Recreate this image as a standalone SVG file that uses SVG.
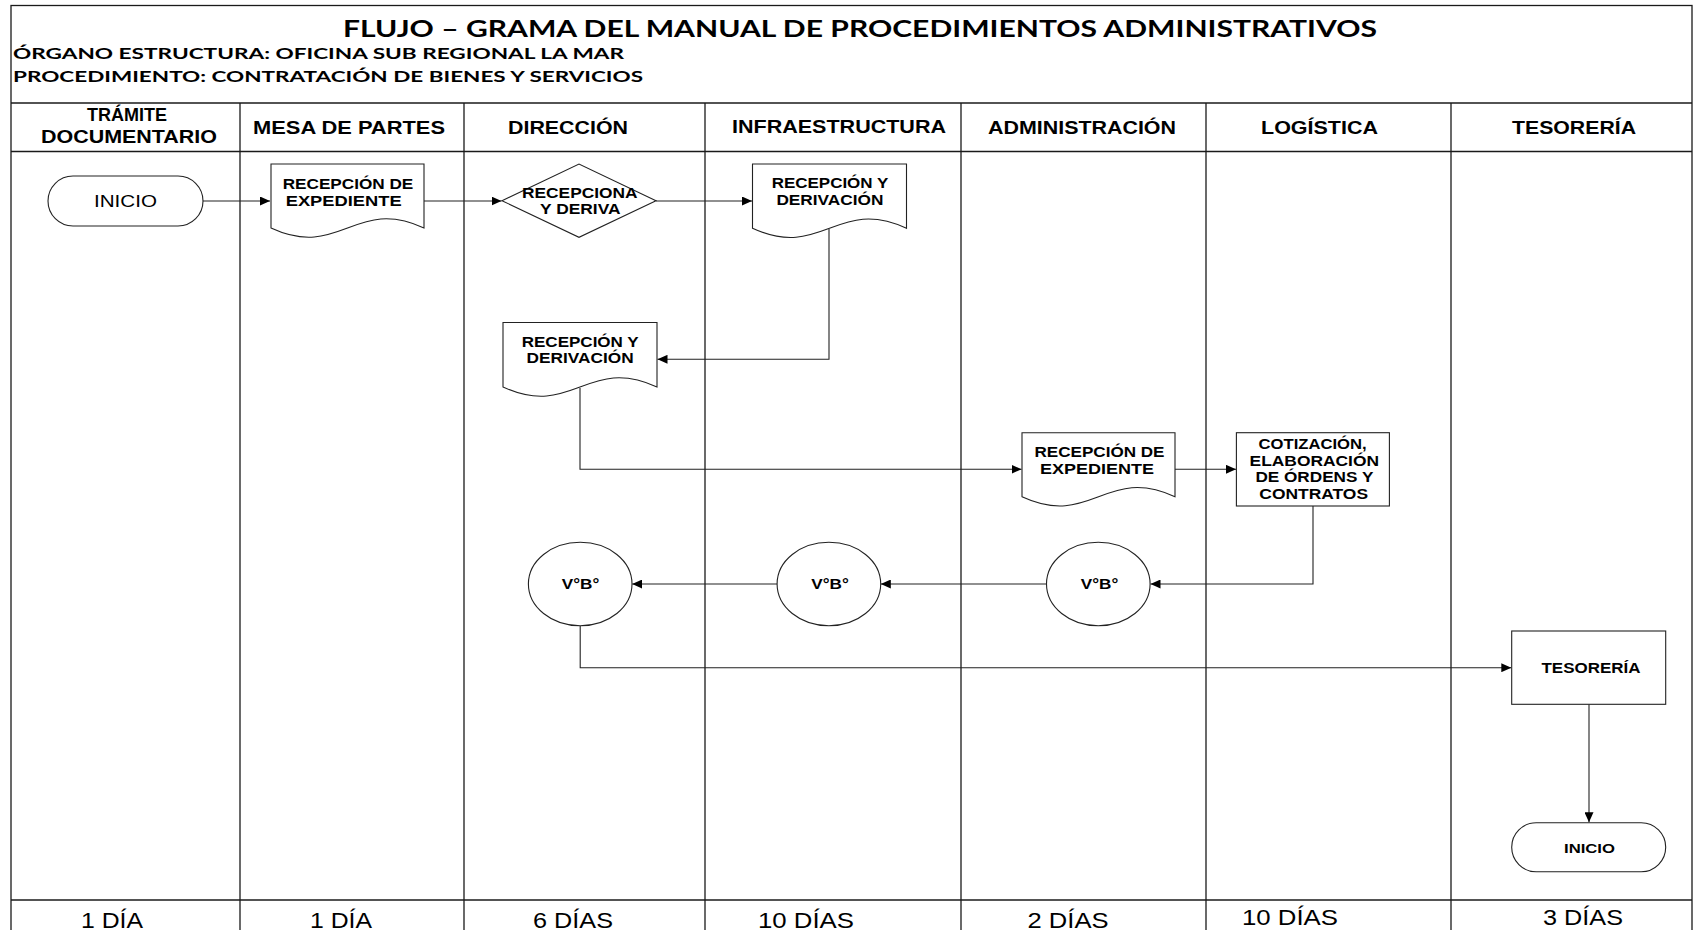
<svg xmlns="http://www.w3.org/2000/svg" width="1693" height="930" viewBox="0 0 1693 930">
<defs>
<style>
.grid{stroke:#1a1a1a;stroke-width:1.3;fill:none}
.shape{stroke:#222;stroke-width:1.1;fill:#fff}
.conn{stroke:#222;stroke-width:1.1;fill:none}
.ttl{font-family:Lato,"Open Sans",sans-serif;font-weight:bold;font-size:23px;fill:#000}
.sub{font-family:Lato,"Open Sans",sans-serif;font-weight:bold;font-size:16px;fill:#000}
.hdr{font-family:"Liberation Sans",Arial,sans-serif;font-weight:bold;font-size:18px;fill:#000;text-anchor:middle}
.nt{font-family:"Liberation Sans",Arial,sans-serif;font-weight:bold;font-size:14.5px;fill:#000;text-anchor:middle}
.nr{font-family:"Liberation Sans",Arial,sans-serif;font-size:17px;fill:#000;text-anchor:middle}
.ft{font-family:"Liberation Sans",Arial,sans-serif;font-size:22px;fill:#000;text-anchor:middle}
</style>
<marker id="ah" markerUnits="userSpaceOnUse" markerWidth="11" markerHeight="9" refX="10" refY="4.5" orient="auto">
<path d="M0,0 L10,4.5 L0,9 z" fill="#000"/>
</marker>
</defs>
<rect x="0" y="0" width="1693" height="930" fill="#fff"/>

<g id="frame">
<rect x="11" y="5.5" width="1681" height="940" class="grid"/>
<line x1="11" y1="103" x2="1692" y2="103" class="grid"/>
<line x1="11" y1="151.5" x2="1692" y2="151.5" class="grid"/>
<line x1="11" y1="900" x2="1692" y2="900" class="grid"/>
<line x1="240" y1="103" x2="240" y2="930" class="grid"/>
<line x1="464" y1="103" x2="464" y2="930" class="grid"/>
<line x1="705" y1="103" x2="705" y2="930" class="grid"/>
<line x1="961" y1="103" x2="961" y2="930" class="grid"/>
<line x1="1206" y1="103" x2="1206" y2="930" class="grid"/>
<line x1="1451" y1="103" x2="1451" y2="930" class="grid"/>
</g>

<g id="titles">
<text class="ttl" x="343" y="37" textLength="1034" lengthAdjust="spacingAndGlyphs">FLUJO – GRAMA DEL MANUAL DE PROCEDIMIENTOS ADMINISTRATIVOS</text>
<text class="sub" x="13" y="59" textLength="611" lengthAdjust="spacingAndGlyphs">ÓRGANO ESTRUCTURA: OFICINA SUB REGIONAL LA MAR</text>
<text class="sub" x="13" y="82" textLength="630" lengthAdjust="spacingAndGlyphs">PROCEDIMIENTO: CONTRATACIÓN DE BIENES Y SERVICIOS</text>
</g>

<g id="lane-headers">
<text class="hdr" x="127" y="121" textLength="80" lengthAdjust="spacingAndGlyphs">TRÁMITE</text>
<text class="hdr" x="129" y="142.5" textLength="176" lengthAdjust="spacingAndGlyphs">DOCUMENTARIO</text>
<text class="hdr" x="349" y="134" textLength="192" lengthAdjust="spacingAndGlyphs">MESA DE PARTES</text>
<text class="hdr" x="568" y="134" textLength="120" lengthAdjust="spacingAndGlyphs">DIRECCIÓN</text>
<text class="hdr" x="839" y="133" textLength="214" lengthAdjust="spacingAndGlyphs">INFRAESTRUCTURA</text>
<text class="hdr" x="1082" y="134" textLength="188" lengthAdjust="spacingAndGlyphs">ADMINISTRACIÓN</text>
<text class="hdr" x="1319.5" y="134" textLength="117" lengthAdjust="spacingAndGlyphs">LOGÍSTICA</text>
<text class="hdr" x="1574" y="134" textLength="124" lengthAdjust="spacingAndGlyphs">TESORERÍA</text>
</g>

<g id="lane-days">
<text class="ft" x="112" y="928" textLength="62" lengthAdjust="spacingAndGlyphs">1 DÍA</text>
<text class="ft" x="341" y="928" textLength="62" lengthAdjust="spacingAndGlyphs">1 DÍA</text>
<text class="ft" x="573" y="928" textLength="80" lengthAdjust="spacingAndGlyphs">6 DÍAS</text>
<text class="ft" x="806" y="928" textLength="96" lengthAdjust="spacingAndGlyphs">10 DÍAS</text>
<text class="ft" x="1068" y="928" textLength="81" lengthAdjust="spacingAndGlyphs">2 DÍAS</text>
<text class="ft" x="1290" y="925" textLength="96" lengthAdjust="spacingAndGlyphs">10 DÍAS</text>
<text class="ft" x="1583" y="925" textLength="80" lengthAdjust="spacingAndGlyphs">3 DÍAS</text>
</g>

<g id="connectors">
<path class="conn" d="M203,201 H270" marker-end="url(#ah)"/>
<path class="conn" d="M424,201 H501.5" marker-end="url(#ah)"/>
<path class="conn" d="M656,201 H752" marker-end="url(#ah)"/>
<path class="conn" d="M829,229 V359.3 H657.5" marker-end="url(#ah)"/>
<path class="conn" d="M580,388 V469.3 H1021.5" marker-end="url(#ah)"/>
<path class="conn" d="M1175,469.3 H1236" marker-end="url(#ah)"/>
<path class="conn" d="M1313,506 V584 H1150.5" marker-end="url(#ah)"/>
<path class="conn" d="M1046.5,584 H880.8" marker-end="url(#ah)"/>
<path class="conn" d="M777,584 H632.2" marker-end="url(#ah)"/>
<path class="conn" d="M580.2,625.7 V667.7 H1511.3" marker-end="url(#ah)"/>
<path class="conn" d="M1589,704.3 V822.3" marker-end="url(#ah)"/>
</g>

<g id="inicio">
<rect class="shape" x="48" y="176" width="155" height="50" rx="25" ry="25"/>
<text class="nr" x="125.5" y="207.3" textLength="63" lengthAdjust="spacingAndGlyphs">INICIO</text>
</g>

<g id="recepcion-expediente-mp">
<path class="shape" d="M271,164 H424 V228 C355.2,196 339.9,260 271,228 Z"/>
<text class="nt" x="348" y="189.3" textLength="130.7" lengthAdjust="spacingAndGlyphs">RECEPCIÓN DE</text>
<text class="nt" x="343.7" y="205.7" textLength="116" lengthAdjust="spacingAndGlyphs">EXPEDIENTE</text>
</g>

<g id="recepciona-deriva">
<path class="shape" d="M502,200.7 L579,164 L656,200.7 L579,237.3 Z"/>
<text class="nt" x="579.8" y="197.7" textLength="115.5" lengthAdjust="spacingAndGlyphs">RECEPCIONA</text>
<text class="nt" x="580.3" y="214" textLength="80.5" lengthAdjust="spacingAndGlyphs">Y DERIVA</text>
</g>

<g id="recepcion-derivacion-infra">
<path class="shape" d="M752.5,164 H906.5 V228.3 C837.2,196.3 821.8,260.3 752.5,228.3 Z"/>
<text class="nt" x="830" y="188.3" textLength="116.7" lengthAdjust="spacingAndGlyphs">RECEPCIÓN Y</text>
<text class="nt" x="829.9" y="205" textLength="107" lengthAdjust="spacingAndGlyphs">DERIVACIÓN</text>
</g>

<g id="recepcion-derivacion-dir">
<path class="shape" d="M503,322.5 H657 V387 C587.7,355 572.3,419 503,387 Z"/>
<text class="nt" x="580.2" y="347.3" textLength="117" lengthAdjust="spacingAndGlyphs">RECEPCIÓN Y</text>
<text class="nt" x="580.1" y="363.3" textLength="107" lengthAdjust="spacingAndGlyphs">DERIVACIÓN</text>
</g>

<g id="recepcion-expediente-adm">
<path class="shape" d="M1022,432.7 H1175 V496.7 C1106.2,464.7 1090.9,528.7 1022,496.7 Z"/>
<text class="nt" x="1099.5" y="457.3" textLength="130" lengthAdjust="spacingAndGlyphs">RECEPCIÓN DE</text>
<text class="nt" x="1097" y="474" textLength="114" lengthAdjust="spacingAndGlyphs">EXPEDIENTE</text>
</g>

<g id="cotizacion">
<rect class="shape" x="1236.4" y="432.7" width="153" height="73.3"/>
<text class="nt" x="1312.6" y="449.3" textLength="108" lengthAdjust="spacingAndGlyphs">COTIZACIÓN,</text>
<text class="nt" x="1314.3" y="466" textLength="129.5" lengthAdjust="spacingAndGlyphs">ELABORACIÓN</text>
<text class="nt" x="1314.4" y="482.3" textLength="118" lengthAdjust="spacingAndGlyphs">DE ÓRDENS Y</text>
<text class="nt" x="1313.7" y="499.3" textLength="108.7" lengthAdjust="spacingAndGlyphs">CONTRATOS</text>
</g>

<g id="vb-adm">
<ellipse class="shape" cx="1098.3" cy="584" rx="51.8" ry="41.7"/>
<text class="nt" x="1099.6" y="589.3" textLength="37.5" lengthAdjust="spacingAndGlyphs">V°B°</text>
</g>

<g id="vb-infra">
<ellipse class="shape" cx="828.9" cy="584" rx="51.8" ry="41.7"/>
<text class="nt" x="830" y="589.3" textLength="37.5" lengthAdjust="spacingAndGlyphs">V°B°</text>
</g>

<g id="vb-dir">
<ellipse class="shape" cx="580.2" cy="584" rx="51.8" ry="41.7"/>
<text class="nt" x="580.5" y="589.3" textLength="37.5" lengthAdjust="spacingAndGlyphs">V°B°</text>
</g>

<g id="tesoreria">
<rect class="shape" x="1511.7" y="631" width="154" height="73.3"/>
<text class="nt" x="1591" y="673.3" textLength="99" lengthAdjust="spacingAndGlyphs">TESORERÍA</text>
</g>

<g id="inicio-fin">
<rect class="shape" x="1511.7" y="822.7" width="154" height="49" rx="24.5" ry="24.5"/>
<text class="nt" style="font-size:13px" x="1589.5" y="853.3" textLength="51" lengthAdjust="spacingAndGlyphs">INICIO</text>
</g>
</svg>
